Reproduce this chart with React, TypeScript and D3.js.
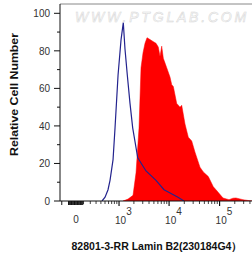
import React from 'react';
import * as d3 from 'd3';

// Isotype control (blue line)
const blueX = [426, 501, 584, 646, 750, 826, 954, 1100, 1223, 1323, 1475, 1670, 1891, 2385, 3487, 5505, 7936, 10920, 15020, 19760];
const blueY = [0, 2, 6, 11, 22, 39, 67, 86, 95, 81, 67, 52, 39, 23, 16, 11, 6, 4, 2, 0];

// Lamin B2 stained (red filled)
const redX = [1208, 1524, 1920, 2205, 2531, 2773, 3040, 3329, 3651, 4185, 4802, 5507, 6110, 6607, 7144, 7689, 8975, 10430, 11280, 12130, 14160, 16450, 17790, 20670, 24030, 28070, 32610, 40950, 47640, 59840, 75190, 84960, 117000, 153800, 184500, 211500, 291100, 382900, 438900];
const redY = [0, 1, 3, 15, 39, 71, 79, 84, 87, 86, 85, 84, 82, 77, 82.5, 76, 71, 66, 62, 61, 52, 50, 51, 41, 34, 32, 26, 18, 15.5, 13, 7.6, 6, 1.6, 0.7, 1.5, 1.6, 0.7, 0.2, 0];

const yMajor = [0, 20, 40, 60, 80, 100];
const yMinor = [10, 30, 50, 70, 90];
const xMajor = [1000, 10000, 100000];
const xMajorExp = ['3', '4', '5'];
const xMinor = [100, 200, 300, 400, 500, 600, 700, 800, 900,
  2000, 3000, 4000, 5000, 6000, 7000, 8000, 9000,
  20000, 30000, 40000, 50000, 60000, 70000, 80000, 90000,
  200000, 300000, 400000];
const xNearZero = [-200, -100, -90, -80, -70, -60, -50, -40, -30, -20, -10, 0, 10, 20, 30, 40, 50, 60, 70, 80, 90];

const xTitle = '82801-3-RR Lamin B2(230184G4）';
const yTitle = 'Relative Cell Number';
const watermark = 'WWW.PTGLAB.COM';

const W = 252, H = 257;
const C = 287;
const X_MIN = -229, X_MAX = 438900;
const L = 60, R = 252, T = 4, B = 201;

export default function App() {
  const lin = d3.scaleLinear()
    .domain([Math.asinh(X_MIN / C), Math.asinh(X_MAX / C)])
    .range([L, R]);
  const x = (v: number) => lin(Math.asinh(v / C));
  const y = d3.scaleLinear().domain([0, 100]).range([B, 13.3]);

  const red = redX.map((v, i) => [v, redY[i]] as [number, number]);
  const blue = blueX.map((v, i) => [v, blueY[i]] as [number, number]);

  const area = d3.area<[number, number]>()
    .x(d => x(d[0])).y0(y(0)).y1(d => y(d[1]));
  const line = d3.line<[number, number]>()
    .x(d => x(d[0])).y(d => y(d[1]));

  const font = 'Arial, "Liberation Sans", sans-serif';

  return (
    <svg width={W} height={H} style={{ position: 'absolute', left: 0, top: 0, background: '#fff' }}>
      <defs>
        <clipPath id="plot">
          <rect x={L} y={T} width={R - L} height={B - T} />
        </clipPath>
      </defs>
      <rect x={0} y={0} width={W} height={H} fill="#fff" />
      <text x={75} y={22} fontFamily={font} fontStyle="italic" fontSize={14}
        letterSpacing={2.8} fill="#fbfbfb" stroke="#d6d6d6" strokeWidth={0.5}>{watermark}</text>
      <g clipPath="url(#plot)">
        <path d={area(red) || ''} fill="#ff0000" stroke="#ff0000" strokeWidth={0.5} />
        <path d={line(blue) || ''} fill="none" stroke="#23238e" strokeWidth={1.2} />
      </g>
      {/* frame */}
      <line x1={L} x2={R} y1={T} y2={T} stroke="#888" strokeWidth={1} />
      <line x1={L} x2={L} y1={T} y2={B} stroke="#111" strokeWidth={1} />
      <line x1={L} x2={R} y1={B} y2={B} stroke="#111" strokeWidth={1} />
      {/* y ticks */}
      {yMajor.map(v => (
        <g key={'ym' + v}>
          <line x1={L - 6} x2={L} y1={y(v)} y2={y(v)} stroke="#111" />
          <text transform={`translate(50,${y(v) + 4}) scale(1,1.15)`} textAnchor="end"
            fontFamily={font} fontSize={10} fill="#333">{v}</text>
        </g>
      ))}
      {yMinor.map(v => (
        <line key={'yn' + v} x1={L - 3} x2={L} y1={y(v)} y2={y(v)} stroke="#111" />
      ))}
      {/* x ticks */}
      {xNearZero.map(v => (
        <line key={'xz' + v} x1={x(v)} x2={x(v)} y1={B} y2={B + 4} stroke="#111" strokeWidth={1} />
      ))}
      {xMinor.map(v => (
        <line key={'xn' + v} x1={x(v)} x2={x(v)} y1={B} y2={B + 3} stroke="#111" strokeWidth={0.8} />
      ))}
      {xMajor.map((v, i) => (
        <g key={'xm' + v}>
          <line x1={x(v)} x2={x(v)} y1={B} y2={B + 5} stroke="#111" strokeWidth={1.2} />
          <text transform={`translate(${x(v) - 4},224) scale(1,1.15)`} fontFamily={font}
            fontSize={10} fill="#333">10<tspan dy={-8} fontSize={10}>{xMajorExp[i]}</tspan></text>
        </g>
      ))}
      <text transform={`translate(${x(0)},223) scale(1,1.15)`} textAnchor="middle"
        fontFamily={font} fontSize={10} fill="#333">0</text>
      {/* titles */}
      <text x={157} y={250} textAnchor="middle" fontFamily={font} fontSize={10.5}
        fontWeight="bold" fill="#111">{xTitle}</text>
      <text transform="translate(18,94.5) rotate(-90)" textAnchor="middle" fontFamily={font}
        fontSize={10} fontWeight="bold" fill="#111" textLength={123}
        lengthAdjust="spacingAndGlyphs">{yTitle}</text>
    </svg>
  );
}
